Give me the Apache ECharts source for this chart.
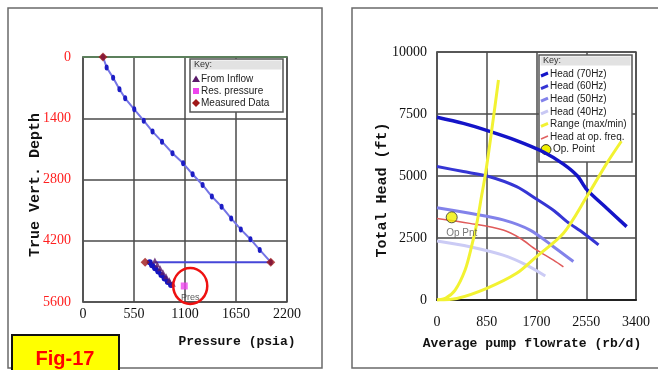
<!DOCTYPE html>
<html><head><meta charset="utf-8">
<script src="https://cdn.jsdelivr.net/npm/echarts@6/dist/echarts.min.js"></script>
<style>html,body{margin:0;padding:0;background:#fff}#c{width:658px;height:370px}</style>
</head><body><div id="c"></div>
<script>
// ---- Pressure traverse (left) ----
const pressureTicks = [0, 550, 1100, 1650, 2200];
const depthTicks = [0, 1400, 2800, 4200, 5600];
const gradientPressure = [216, 255, 325, 393, 455, 553, 655, 750, 852, 965, 1080, 1182, 1290, 1390, 1495, 1598, 1702, 1806, 1906, 2025];
const gradientDepth    = [0, 240, 475, 735, 945, 1195, 1455, 1705, 1935, 2200, 2430, 2680, 2925, 3190, 3420, 3690, 3940, 4165, 4410, 4690];
const returnPressure = [2025, 770];
const returnDepth    = [4690, 4690];
const clusterPressure = [720, 745, 778, 812, 846, 880, 915, 950];
const clusterDepth    = [4690, 4760, 4830, 4900, 4980, 5060, 5140, 5210];
const inflowPressure = [775, 802, 832, 862, 896, 930, 968];
const inflowDepth    = [4650, 4740, 4830, 4920, 5010, 5100, 5180];
const resPressure = [1092];
const resDepth    = [5234];
const measuredPressure = [216, 670, 2025];
const measuredDepth    = [0, 4690, 4690];

// ---- Pump curves (right) ----
const flowTicks = [0, 850, 1700, 2550, 3400];
const headTicks = [0, 2500, 5000, 7500, 10000];
const q70 = [0, 450, 900, 1360, 1820, 2160, 2400, 2560, 2900, 3240];
const h70 = [7370, 7120, 6800, 6430, 5970, 5480, 5000, 4450, 3700, 2960];
const q60 = [0, 450, 900, 1360, 1700, 2000, 2220, 2500, 2760];
const h60 = [5380, 5180, 4970, 4570, 4070, 3600, 3160, 2700, 2220];
const q50 = [0, 560, 1130, 1590, 1990, 2330];
const h50 = [3720, 3500, 3230, 2820, 2150, 1550];
const q40 = [0, 560, 1130, 1530, 1850];
const h40 = [2380, 2150, 1810, 1410, 970];
const qOp = [0, 560, 1130, 1420, 1700, 1990, 2160];
const hOp = [3290, 3090, 2820, 2490, 2020, 1610, 1340];
const qMax = [0, 150, 310, 480, 590, 680, 760, 820, 880, 935, 990, 1050];
const hMax = [0, 80, 400, 1210, 2150, 3090, 4170, 4970, 5910, 6850, 7800, 8870];
const qMin = [0, 340, 850, 1360, 1700, 2160, 2560, 2900, 3150];
const hMin = [0, 60, 470, 1075, 1750, 2690, 4170, 5510, 6400];
const opFlow = [251];
const opHead = [3334];

const pairs = (xs, ys) => xs.map((x, i) => [x, ys[i]]);
const plain = (v) => String(v);

const serif = 'Liberation Serif';
const mono = 'Liberation Mono';
const sans = 'Liberation Sans';
const gridLine = { lineStyle: { color: '#4a4a4a', width: 1.5 } };

const chart = echarts.init(document.getElementById('c'), null, { renderer: 'canvas' });

function legendBox(x, y, w, h, items, rowStart, rowStep) {
  const children = [
    { type: 'rect', shape: { x: 0, y: 0, width: w, height: h }, style: { fill: '#fff', stroke: '#555', lineWidth: 1.5 } },
    { type: 'rect', shape: { x: 1.5, y: 1.5, width: w - 3, height: 9 }, style: { fill: '#e2e2e2' } },
    { type: 'text', x: 4, y: 6, style: { text: 'Key:', font: '9px ' + sans, fill: '#333', verticalAlign: 'middle' } }
  ];
  items.forEach((it, i) => {
    const yy = rowStart + i * rowStep;
    children.push(it.glyph(yy));
    children.push({ type: 'text', x: it.tx, y: yy, style: { text: it.text, font: '10px ' + sans, fill: '#222', verticalAlign: 'middle' } });
  });
  return { type: 'group', x: x, y: y, z: 100, children: children };
}

const leftLegend = legendBox(190, 59, 93, 53, [
  { text: 'From Inflow', tx: 11, glyph: (yy) => ({ type: 'polygon', shape: { points: [[6, yy - 3.5], [2, yy + 3], [10, yy + 3]] }, style: { fill: '#5a1a6a' } }) },
  { text: 'Res. pressure', tx: 11, glyph: (yy) => ({ type: 'rect', shape: { x: 3, y: yy - 3, width: 6, height: 6 }, style: { fill: '#ee44ee' } }) },
  { text: 'Measured Data', tx: 11, glyph: (yy) => ({ type: 'polygon', shape: { points: [[6, yy - 4], [10, yy], [6, yy + 4], [2, yy]] }, style: { fill: '#a01818' } }) }
], 20, 12);

const dash = (color, w) => (yy) => ({ type: 'line', shape: { x1: 2, y1: yy + 2, x2: 9, y2: yy - 1 }, style: { stroke: color, lineWidth: w } });
const rightLegend = legendBox(539, 55, 93, 107, [
  { text: 'Head (70Hz)', tx: 11, glyph: dash('#1414c8', 3) },
  { text: 'Head (60Hz)', tx: 11, glyph: dash('#3535d4', 3) },
  { text: 'Head (50Hz)', tx: 11, glyph: dash('#8282ea', 3) },
  { text: 'Head (40Hz)', tx: 11, glyph: dash('#c8c8f4', 3) },
  { text: 'Range (max/min)', tx: 11, glyph: dash('#f2f232', 3) },
  { text: 'Head at op. freq.', tx: 11, glyph: dash('#e06060', 1.5) },
  { text: 'Op. Point', tx: 14, glyph: (yy) => ({ type: 'circle', shape: { cx: 7, cy: yy, r: 5 }, style: { fill: '#f0f000', stroke: '#333', lineWidth: 1 } }) }
], 19, 12.6);

const option = {
  backgroundColor: '#fff',
  animation: false,
  grid: [
    { left: 83, top: 57, width: 204, height: 245, show: true, borderColor: '#555', borderWidth: 1.5 },
    { left: 437, top: 52, width: 199, height: 248, show: true, borderColor: '#555', borderWidth: 1.5 }
  ],
  xAxis: [
    { gridIndex: 0, type: 'value', min: pressureTicks[0], max: pressureTicks[pressureTicks.length - 1], interval: pressureTicks[1] - pressureTicks[0],
      axisLine: { lineStyle: { color: '#5f8f5f', width: 1.5 } }, axisTick: { show: false }, splitLine: gridLine,
      axisLabel: { margin: 5, color: '#111', fontFamily: serif, fontSize: 14, formatter: plain } },
    { gridIndex: 1, type: 'value', min: flowTicks[0], max: flowTicks[flowTicks.length - 1], interval: flowTicks[1] - flowTicks[0],
      axisLine: { lineStyle: { color: '#222', width: 2 } }, axisTick: { show: false }, splitLine: gridLine,
      axisLabel: { margin: 15, color: '#111', fontFamily: serif, fontSize: 14, formatter: plain } }
  ],
  yAxis: [
    { gridIndex: 0, type: 'value', inverse: true, min: depthTicks[0], max: depthTicks[depthTicks.length - 1], interval: depthTicks[1] - depthTicks[0],
      axisLine: { lineStyle: { color: '#555', width: 1.5 } }, axisTick: { show: false }, splitLine: gridLine,
      axisLabel: { margin: 12, color: '#ff2020', fontFamily: serif, fontSize: 14, formatter: plain } },
    { gridIndex: 1, type: 'value', min: headTicks[0], max: headTicks[headTicks.length - 1], interval: headTicks[1] - headTicks[0],
      axisLine: { lineStyle: { color: '#555', width: 1.5 } }, axisTick: { show: false }, splitLine: gridLine,
      axisLabel: { margin: 10, color: '#111', fontFamily: serif, fontSize: 14, formatter: plain } }
  ],
  series: [
    { type: 'line', xAxisIndex: 0, yAxisIndex: 0, data: pairs(gradientPressure, gradientDepth),
      lineStyle: { color: '#7474e6', width: 2 }, symbol: 'circle', symbolSize: [4, 6], itemStyle: { color: '#1c1cc4' }, z: 3 },
    { type: 'line', xAxisIndex: 0, yAxisIndex: 0, data: pairs(returnPressure, returnDepth),
      lineStyle: { color: '#4646d8', width: 2 }, symbol: 'none', z: 3 },
    { type: 'line', xAxisIndex: 0, yAxisIndex: 0, data: pairs(clusterPressure, clusterDepth),
      lineStyle: { color: '#2a2ad0', width: 4 }, symbol: 'circle', symbolSize: 6, itemStyle: { color: '#1414c0' }, z: 3 },
    { type: 'scatter', xAxisIndex: 0, yAxisIndex: 0, data: pairs(inflowPressure, inflowDepth),
      symbol: 'triangle', symbolSize: 6, itemStyle: { color: '#5a1a6a' }, z: 4 },
    { type: 'scatter', xAxisIndex: 0, yAxisIndex: 0, data: pairs(resPressure, resDepth),
      symbol: 'rect', symbolSize: 7, itemStyle: { color: '#ee44ee' }, z: 5,
      label: { show: true, formatter: 'Pres', position: 'bottom', offset: [6, -1], fontFamily: sans, fontSize: 9, color: '#333' } },
    { type: 'scatter', xAxisIndex: 0, yAxisIndex: 0, data: pairs(measuredPressure, measuredDepth),
      symbol: 'diamond', symbolSize: 9, itemStyle: { color: '#a01818' }, z: 6 },

    { type: 'line', xAxisIndex: 1, yAxisIndex: 1, data: pairs(q40, h40), smooth: 0.3, symbol: 'none', lineStyle: { color: '#cbcbf5', width: 3 } },
    { type: 'line', xAxisIndex: 1, yAxisIndex: 1, data: pairs(q50, h50), smooth: 0.3, symbol: 'none', lineStyle: { color: '#8282ea', width: 3 } },
    { type: 'line', xAxisIndex: 1, yAxisIndex: 1, data: pairs(qOp, hOp), smooth: 0.3, symbol: 'none', lineStyle: { color: '#e05a5a', width: 1.5 } },
    { type: 'line', xAxisIndex: 1, yAxisIndex: 1, data: pairs(q60, h60), smooth: 0.3, symbol: 'none', lineStyle: { color: '#3535d4', width: 3 } },
    { type: 'line', xAxisIndex: 1, yAxisIndex: 1, data: pairs(q70, h70), smooth: 0.3, symbol: 'none', lineStyle: { color: '#1414c8', width: 3.5 } },
    { type: 'line', xAxisIndex: 1, yAxisIndex: 1, data: pairs(qMax, hMax), smooth: 0.3, symbol: 'none', lineStyle: { color: '#f2f232', width: 3 }, z: 3 },
    { type: 'line', xAxisIndex: 1, yAxisIndex: 1, data: pairs(qMin, hMin), smooth: 0.3, symbol: 'none', lineStyle: { color: '#f2f232', width: 3 }, z: 3 },
    { type: 'scatter', xAxisIndex: 1, yAxisIndex: 1, data: pairs(opFlow, opHead), symbol: 'circle', symbolSize: 11,
      itemStyle: { color: '#f0f000', borderColor: '#333', borderWidth: 1 }, z: 6,
      label: { show: true, formatter: 'Op Pnt', position: 'bottom', offset: [10, 0], fontFamily: sans, fontSize: 10, color: '#555' } }
  ],
  graphic: [
    { type: 'rect', z: 0, silent: true, shape: { x: 8, y: 8, width: 314, height: 360 }, style: { fill: 'none', stroke: '#6a6a6a', lineWidth: 1.5 } },
    { type: 'rect', z: 0, silent: true, shape: { x: 352, y: 8, width: 310, height: 360 }, style: { fill: 'none', stroke: '#6a6a6a', lineWidth: 1.5 } },
    { type: 'text', x: 35, y: 185, rotation: Math.PI / 2, z: 50,
      style: { text: 'True Vert. Depth', font: 'bold 15px ' + mono, fill: '#111', align: 'center', verticalAlign: 'middle' } },
    { type: 'text', x: 237, y: 342, z: 50,
      style: { text: 'Pressure (psia)', font: 'bold 13px ' + mono, fill: '#111', align: 'center', verticalAlign: 'middle' } },
    { type: 'text', x: 382, y: 190, rotation: Math.PI / 2, z: 50,
      style: { text: 'Total Head (ft)', font: 'bold 15px ' + mono, fill: '#111', align: 'center', verticalAlign: 'middle' } },
    { type: 'text', x: 532, y: 344, z: 50,
      style: { text: 'Average pump flowrate (rb/d)', font: 'bold 13px ' + mono, fill: '#111', align: 'center', verticalAlign: 'middle' } },
    { type: 'rect', z: 60, shape: { x: 12, y: 335, width: 107, height: 40 }, style: { fill: '#ffff00', stroke: '#111', lineWidth: 2 } },
    { type: 'text', x: 65, y: 359, z: 61,
      style: { text: 'Fig-17', font: 'bold 20px ' + sans, fill: '#ff0000', align: 'center', verticalAlign: 'middle' } },
    leftLegend,
    rightLegend
  ]
};
chart.setOption(option);

// Highlight ring around the reservoir pressure point
const c = chart.convertToPixel({ gridIndex: 0 }, [resPressure[0], resDepth[0]]);
const g = option.graphic.slice();
g.push({ type: 'ellipse', z: 70, shape: { cx: c[0] + 6, cy: c[1] + 0, rx: 17, ry: 18 }, style: { fill: 'none', stroke: '#ee1111', lineWidth: 2.5 } });
chart.setOption({ graphic: g }, { replaceMerge: ['graphic'] });
</script>
</body></html>
